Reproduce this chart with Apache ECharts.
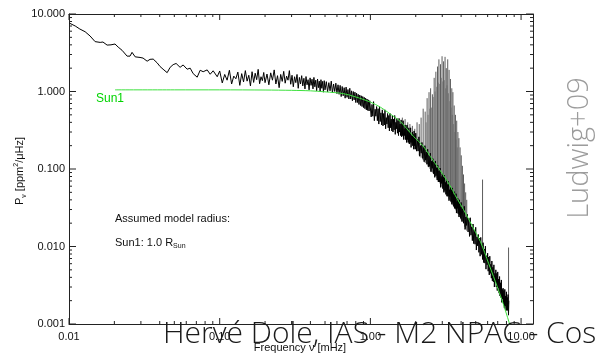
<!DOCTYPE html>
<html><head><meta charset="utf-8">
<script src="https://cdn.jsdelivr.net/npm/echarts@6/dist/echarts.min.js"></script>
<style>html,body{margin:0;padding:0;background:#fff;overflow:hidden}#c{width:597px;height:356px}</style>
</head><body><div id="c"></div>
<script>
// ---- axis ranges / ticks ----
const X_MIN = 0.01, X_MAX = 12, Y_MIN = 0.001, Y_MAX = 10;
const xMajorTicks = [0.01, 0.1, 1, 10];
const xMinorTicks = [0.02,0.03,0.04,0.05,0.06,0.07,0.08,0.09,0.2,0.3,0.4,0.5,0.6,0.7,0.8,0.9,2,3,4,5,6,7,8,9];
const yMajorTicks = [0.001, 0.01, 0.1, 1, 10];
const yMinorTicks = [0.002,0.003,0.004,0.005,0.006,0.007,0.008,0.009,0.02,0.03,0.04,0.05,0.06,0.07,0.08,0.09,0.2,0.3,0.4,0.5,0.6,0.7,0.8,0.9,2,3,4,5,6,7,8,9];

// ---- observed spectrum [frequency mHz, power ppm^2/uHz] ----
const lowFreqSpectrum = [[0.0101,7.6],[0.0110,7.0],[0.0118,6.4],[0.0128,5.9],[0.0138,5.2],[0.0149,4.4],[0.0161,4.3],[0.0168,4.35],[0.0179,3.97],[0.0190,4.0],[0.0202,4.1],[0.0212,3.74],[0.0225,3.4],[0.0243,2.86],[0.0254,2.86],[0.0262,3.2],[0.0275,2.8],[0.0296,2.75],[0.0310,2.7],[0.0330,2.46],[0.0345,2.6],[0.0362,2.62],[0.0384,2.35],[0.0402,2.1],[0.0421,1.94],[0.0448,1.75],[0.0469,2.05],[0.0491,2.22],[0.0514,2.3],[0.0546,2.05],[0.0572,2.2],[0.0608,1.94],[0.0637,2.0],[0.0667,1.7],[0.0709,1.53],[0.0742,1.88],[0.0777,1.8],[0.0826,1.9],[0.0865,1.67],[0.0905,1.85],[0.0963,1.55]];
const midFreqSpectrum = [[0.100,1.84],[0.104,1.29],[0.108,1.66],[0.112,1.40],[0.116,1.88],[0.120,1.25],[0.124,1.58],[0.128,1.46],[0.132,1.78],[0.136,1.20],[0.140,1.70],[0.144,1.33],[0.148,1.86],[0.152,1.36],[0.156,1.62],[0.160,1.18],[0.164,1.80],[0.168,1.31],[0.172,1.72],[0.176,1.42],[0.180,1.93],[0.184,1.26],[0.188,1.55],[0.192,1.38],[0.196,1.76],
[0.200,1.30],[0.206,1.68],[0.212,1.22],[0.218,1.74],[0.224,1.40],[0.230,1.90],[0.236,1.25],[0.242,1.60],[0.248,1.12],[0.254,1.66],[0.260,1.35],[0.266,1.82],[0.272,1.28],[0.278,1.58],[0.284,1.40],[0.290,1.86],[0.296,1.24],[0.302,1.62],[0.308,1.15],[0.314,1.55],[0.320,1.30],[0.326,1.66],[0.332,1.10],[0.338,1.52],[0.344,1.25],[0.350,1.60],[0.356,1.18],[0.362,1.48],[0.368,1.08],[0.374,1.56],[0.380,1.22],[0.386,1.42],[0.392,1.05],[0.398,1.50],[0.404,1.20],[0.410,1.44],[0.416,1.08],[0.422,1.52],[0.428,1.15],[0.434,1.40],[0.440,1.02],[0.446,1.45],[0.452,1.12],[0.458,1.36],[0.464,1.00],[0.470,1.42],[0.476,1.10],[0.482,1.35],[0.488,0.98],[0.494,1.38],
[0.50,1.05],[0.51,1.34],[0.52,0.99],[0.53,1.30],[0.54,1.02],[0.55,1.36],[0.56,0.96],[0.57,1.25],[0.58,1.00],[0.59,1.28],[0.60,0.94],[0.61,1.22],[0.62,0.92],[0.63,1.20],[0.64,0.86],[0.65,1.16],[0.66,0.88],[0.67,1.12],[0.68,0.82],[0.69,1.14],[0.70,0.84],[0.71,1.06],[0.72,0.80],[0.73,1.10],[0.74,0.80],[0.75,1.02],[0.76,0.76],[0.77,1.00],[0.78,0.78],[0.79,0.98],[0.80,0.72],[0.81,0.95],[0.82,0.72],[0.83,0.92],[0.84,0.68],[0.85,0.90],[0.86,0.66],[0.87,0.88],[0.88,0.64],[0.89,0.86],[0.90,0.62],[0.91,0.84],[0.92,0.60],[0.93,0.82],[0.94,0.58],[0.95,0.80],[0.96,0.57],[0.97,0.78],[0.98,0.56],[0.99,0.76]];
const highFreqSpectrum = [[1.0000,0.77],[1.0125,0.47],[1.0250,0.68],[1.0375,0.48],[1.0500,0.74],[1.0625,0.42],[1.0750,0.59],[1.0875,0.48],[1.1000,0.64],[1.1125,0.42],[1.1250,0.60],[1.1375,0.38],[1.1500,0.64],[1.1625,0.41],[1.1750,0.53],[1.1875,0.37],[1.2000,0.58],[1.2125,0.36],[1.2250,0.52],[1.2375,0.37],[1.2500,0.58],[1.2625,0.33],[1.2750,0.46],[1.2875,0.38],[1.3000,0.52],[1.3125,0.34],[1.3250,0.49],[1.3375,0.31],[1.3500,0.52],[1.3625,0.34],[1.3750,0.44],[1.3875,0.31],[1.4000,0.49],[1.4125,0.30],[1.4250,0.44],[1.4375,0.32],[1.4500,0.49],[1.4625,0.28],[1.4750,0.40],[1.4875,0.33],[1.5000,0.45],[1.5125,0.29],[1.5250,0.42],[1.5375,0.27],[1.5500,0.45],[1.5625,0.30],[1.5750,0.38],[1.5875,0.27],[1.6000,0.43],[1.6125,0.26],[1.6250,0.38],[1.6375,0.27],[1.6500,0.42],[1.6625,0.24],[1.6750,0.33],[1.6875,0.27],[1.7000,0.37],[1.7125,0.24],[1.7250,0.35],[1.7375,0.22],[1.7500,0.37],[1.7625,0.24],[1.7750,0.31],[1.7875,0.22],[1.8000,0.34],[1.8125,0.21],[1.8250,0.30],[1.8375,0.22],[1.8500,0.34],[1.8625,0.19],[1.8750,0.27],[1.8875,0.22],[1.9000,0.30],[1.9125,0.20],[1.9250,0.28],[1.9375,0.18],[1.9500,0.31],[1.9625,0.20],[1.9750,0.26],[1.9875,0.18],
[2.000,0.29],[2.025,0.17],[2.050,0.24],[2.075,0.17],[2.100,0.26],[2.125,0.146],[2.150,0.20],[2.175,0.16],[2.200,0.22],[2.225,0.137],[2.250,0.19],[2.275,0.124],[2.300,0.20],[2.325,0.13],[2.350,0.166],[2.375,0.115],[2.400,0.18],[2.425,0.107],[2.450,0.15],[2.475,0.108],[2.500,0.16],[2.525,0.092],[2.550,0.126],[2.575,0.102],[2.600,0.136],[2.625,0.087],[2.650,0.123],[2.675,0.078],[2.700,0.127],[2.725,0.082],[2.750,0.104],[2.775,0.072],[2.800,0.112],[2.825,0.068],[2.850,0.095],[2.875,0.068],[2.900,0.103],[2.925,0.058],[2.950,0.080],[2.975,0.065],[3.000,0.087],[3.025,0.056],[3.050,0.079],[3.075,0.050],[3.100,0.083],[3.125,0.053],[3.150,0.067],[3.175,0.047],[3.200,0.073],[3.225,0.0445],[3.250,0.063],[3.275,0.045],[3.300,0.069],[3.325,0.039],[3.350,0.054],[3.375,0.044],[3.400,0.060],[3.425,0.038],[3.450,0.054],[3.475,0.035],[3.500,0.057],[3.525,0.037],[3.550,0.047],[3.575,0.033],[3.600,0.051],[3.625,0.031],[3.650,0.044],[3.675,0.031],[3.700,0.048],[3.725,0.027],[3.750,0.038],[3.775,0.031],[3.800,0.042],[3.825,0.0265],[3.850,0.038],[3.875,0.024],[3.900,0.040],[3.925,0.0255],[3.950,0.0325],[3.975,0.023],
[4.00,0.037],[4.05,0.021],[4.10,0.031],[4.15,0.020],[4.20,0.033],[4.25,0.0166],[4.30,0.024],[4.35,0.0187],[4.40,0.026],[4.45,0.0154],[4.50,0.023],[4.55,0.0135],[4.60,0.0235],[4.65,0.014],[4.70,0.018],[4.75,0.0119],[4.80,0.0195],[4.85,0.0109],[4.90,0.0163],[4.95,0.0107],[5.00,0.0177],[5.05,0.0090],[5.10,0.0133],[5.15,0.0102],[5.20,0.0143],[5.25,0.0084],[5.30,0.0128],[5.35,0.0075],[5.40,0.0131],[5.45,0.0079],[5.50,0.0104],[5.55,0.0068],[5.60,0.0112],[5.65,0.0062],[5.70,0.0093],[5.75,0.0061],[5.80,0.0101],[5.85,0.0051],[5.90,0.0076],[5.95,0.0058],[6.00,0.0082],[6.05,0.0048],[6.10,0.0073],[6.15,0.0043],[6.20,0.0075],[6.25,0.0045],[6.30,0.0059],[6.35,0.0039],[6.40,0.0065],[6.45,0.0036],[6.50,0.0054],[6.55,0.0035],[6.60,0.0058],[6.65,0.0030],[6.70,0.0045],[6.75,0.0035],[6.80,0.0050],[6.85,0.0030],[6.90,0.0045],[6.95,0.0027],[7.00,0.0047],[7.05,0.0029],[7.10,0.0038],[7.15,0.0025],[7.20,0.0041],[7.25,0.0023],[7.30,0.0034],[7.35,0.0022],[7.40,0.0037],[7.45,0.0019],[7.50,0.0028],[7.55,0.0021],[7.60,0.0029],[7.65,0.0018],[7.70,0.0027],[7.75,0.0016],[7.80,0.0028],[7.85,0.0017],[7.90,0.0023],[7.95,0.0015],[8.00,0.0026],[8.05,0.0015],[8.10,0.0022],[8.15,0.0015],[8.20,0.0024],[8.25,0.0013],[8.30,0.0020]];
// p-mode peaks and spikes: [frequency, base power, peak power]
const modePeaks = [[1.63,0.27,0.46],[1.70,0.24,0.44],[1.77,0.22,0.40],[1.83,0.21,0.38],[1.90,0.20,0.36],[1.97,0.18,0.33],[2.04,0.17,0.40],[2.11,0.15,0.38],[2.17,0.14,0.46],[2.24,0.13,0.60],[2.31,0.12,0.55],[2.38,0.115,0.82],[2.45,0.105,0.98],[2.51,0.095,1.10],[2.58,0.09,0.92],[2.65,0.085,1.50],[2.72,0.08,1.80],[2.79,0.073,2.10],[2.85,0.068,2.60],[2.92,0.062,2.25],[2.99,0.058,2.85],[3.06,0.053,2.45],[3.13,0.05,2.80],[3.19,0.047,2.00],[3.26,0.044,2.60],[3.33,0.041,1.90],[3.40,0.039,1.45],[3.47,0.036,1.10],[3.53,0.034,0.98],[3.60,0.032,0.66],[3.67,0.030,0.50],[3.74,0.028,0.42],[3.81,0.027,0.30],[3.87,0.025,0.25],[3.94,0.024,0.19],[4.01,0.022,0.15],[4.08,0.021,0.11],[4.15,0.020,0.085],[4.22,0.018,0.065],[4.29,0.017,0.05],[4.36,0.016,0.04],[5.55,0.0075,0.073],[8.26,0.0018,0.0097]];
const minorPeaks = [[2.345,0.12,0.40],[2.415,0.11,0.50],[2.48,0.10,0.60],[2.545,0.093,0.62],[2.615,0.087,0.85],[2.685,0.082,1.00],[2.755,0.076,1.15],[2.82,0.07,1.30],[2.885,0.065,1.25],[2.955,0.06,1.50],[3.025,0.055,1.35],[3.095,0.052,1.40],[3.16,0.048,1.10],[3.225,0.045,1.20],[3.295,0.043,0.95],[3.365,0.040,0.75],[3.435,0.037,0.62],[3.50,0.035,0.50],[3.565,0.033,0.38],[3.635,0.031,0.30],[3.705,0.029,0.24],[3.775,0.027,0.19]];

// ---- model Sun1 ----
const sunModel = [[0.0202,1.05],[0.05,1.05],[0.1,1.05],[0.2,1.045],[0.3,1.035],[0.4,1.02],[0.5,0.99],[0.66,0.94],[0.8,0.85],[1.0,0.73],[1.17,0.625],[1.36,0.51],[1.58,0.41],[1.93,0.264],[2.25,0.196],[2.5,0.145],[3.25,0.069],[3.8,0.040],[4.15,0.030],[5.0,0.0151],[5.38,0.0115],[6.1,0.006],[6.56,0.0041],[7.31,0.0023],[7.89,0.00147],[8.39,0.001],[8.5,0.00092]];

const spectrum = lowFreqSpectrum.concat(midFreqSpectrum, highFreqSpectrum);

const FONT = '"Liberation Sans", Arial, sans-serif';
const LIGHT = '"Open Sans", Lato, Roboto, sans-serif';
const AX = '#222';

function isDecade(v){ const l = Math.log10(v); return Math.abs(l - Math.round(l)) < 1e-6; }

function tickSeries(values, dir, len) {
  return {
    type: 'custom', xAxisIndex: 0, yAxisIndex: 0, silent: true, clip: false, z: 5, animation: false,
    data: values.map(v => dir === 'x' ? [v, Y_MIN] : [X_MIN, v]),
    renderItem: function (params, api) {
      const st = { stroke: AX, lineWidth: 1 };
      if (dir === 'x') {
        const v = api.value(0);
        const b = api.coord([v, Y_MIN]), t = api.coord([v, Y_MAX]);
        return { type: 'group', children: [
          { type: 'line', shape: { x1: b[0], y1: b[1], x2: b[0], y2: b[1] - len }, style: st },
          { type: 'line', shape: { x1: t[0], y1: t[1], x2: t[0], y2: t[1] + len }, style: st } ] };
      } else {
        const v = api.value(1);
        const l = api.coord([X_MIN, v]), r = api.coord([X_MAX, v]);
        return { type: 'group', children: [
          { type: 'line', shape: { x1: l[0], y1: l[1], x2: l[0] + len, y2: l[1] }, style: st },
          { type: 'line', shape: { x1: r[0], y1: r[1], x2: r[0] - len, y2: r[1] }, style: st } ] };
      }
    }
  };
}
function peakSeries(values, color, width) {
  return {
    type: 'custom', xAxisIndex: 0, yAxisIndex: 0, silent: true, z: 2, animation: false,
    data: values,
    renderItem: function (params, api) {
      const f = api.value(0);
      const a = api.coord([f, api.value(1)]), b = api.coord([f, api.value(2)]);
      return { type: 'line', shape: { x1: a[0], y1: a[1], x2: b[0], y2: b[1] }, style: { stroke: color, lineWidth: width } };
    }
  };
}

const chart = echarts.init(document.getElementById('c'), null, { renderer: 'canvas' });
chart.setOption({
  animation: false,
  backgroundColor: '#fff',
  grid: { left: 69, right: 64, top: 14, bottom: 32, containLabel: false },
  xAxis: [
    { type: 'log', logBase: 10, min: X_MIN, max: X_MAX, position: 'bottom',
      axisLine: { show: true, lineStyle: { color: AX, width: 1 } }, axisTick: { show: false },
      splitLine: { show: false }, minorTick: { show: false },
      axisLabel: { show: true, margin: 7, color: '#111', fontSize: 11, fontFamily: FONT, showMaxLabel: false,
        formatter: v => isDecade(v) ? v.toFixed(2) : '' } },
    { type: 'log', logBase: 10, min: X_MIN, max: X_MAX, position: 'top',
      axisLine: { show: true, onZero: false, lineStyle: { color: AX, width: 1 } }, axisTick: { show: false },
      splitLine: { show: false }, axisLabel: { show: false } }
  ],
  yAxis: [
    { type: 'log', logBase: 10, min: Y_MIN, max: Y_MAX, position: 'left',
      axisLine: { show: true, lineStyle: { color: AX, width: 1 } }, axisTick: { show: false },
      splitLine: { show: false },
      axisLabel: { show: true, margin: 4, color: '#111', fontSize: 11, fontFamily: FONT,
        formatter: v => isDecade(v) ? v.toFixed(3) : '' } },
    { type: 'log', logBase: 10, min: Y_MIN, max: Y_MAX, position: 'right',
      axisLine: { show: true, onZero: false, lineStyle: { color: AX, width: 1 } }, axisTick: { show: false },
      splitLine: { show: false }, axisLabel: { show: false } }
  ],
  series: [
    { name: 'Spectrum', type: 'line', data: spectrum, symbol: 'none', showSymbol: false,
      lineStyle: { color: '#000', width: 1 }, z: 2, animation: false },
    peakSeries(modePeaks, '#333', 0.8),
    peakSeries(minorPeaks, '#666', 0.7),
    { name: 'Sun1', type: 'line', data: sunModel, symbol: 'none', showSymbol: false, smooth: 0.3,
      lineStyle: { color: '#3ee03e', width: 1 }, z: 3, animation: false },
    tickSeries(xMajorTicks, 'x', 6), tickSeries(xMinorTicks, 'x', 3),
    tickSeries(yMajorTicks, 'y', 7), tickSeries(yMinorTicks, 'y', 3)
  ],
  graphic: [
    { type: 'text', x: 96, y: 99, z: 10, style: { text: 'Sun1', fill: '#00d400', fontSize: 12, fontFamily: FONT, verticalAlign: 'middle' } },
    { type: 'text', x: 115, y: 219, z: 10, style: { text: 'Assumed model radius:', fill: '#111', fontSize: 11, fontFamily: FONT, verticalAlign: 'middle' } },
    { type: 'text', x: 115, y: 243, z: 10, style: { text: '{m|Sun1: 1.0 R}{s|Sun}', fill: '#111', fontFamily: FONT, verticalAlign: 'middle',
        rich: { m: { fontSize: 11, lineHeight: 14, fontFamily: FONT, fill: '#111' }, s: { fontSize: 7, lineHeight: 8, verticalAlign: 'bottom', fontFamily: FONT, fill: '#111' } } } },
    { type: 'text', x: 20, y: 171, rotation: Math.PI / 2, z: 10, style: { text: '{m|P}{s|ν}{m| [ppm}{p|2}{m|/μHz]}', fill: '#111', fontFamily: FONT, align: 'center', verticalAlign: 'middle',
        rich: { m: { fontSize: 11, lineHeight: 15, fontFamily: FONT, fill: '#111' }, s: { fontSize: 7, lineHeight: 8, verticalAlign: 'bottom', fontFamily: FONT, fill: '#111' }, p: { fontSize: 7, lineHeight: 8, verticalAlign: 'top', fontFamily: FONT, fill: '#111' } } } },
    { type: 'text', x: 300, y: 348, z: 10, style: { text: 'Frequency ν [mHz]', fill: '#111', fontSize: 11, fontFamily: FONT, align: 'center', verticalAlign: 'middle' } },
    { type: 'text', x: 580, y: 148, rotation: Math.PI / 2, z: 20, style: { text: 'Ludwig+09', fill: '#9c9c9c', fontSize: 29, fontWeight: 300, fontFamily: LIGHT, align: 'center', verticalAlign: 'middle' } },
    { type: 'text', x: 163, y: 334, z: 20, style: { text: 'Hervé Dole, IAS - M2 NPAC - Cos', fill: '#1a1a1a', fontSize: 30, fontWeight: 300, fontFamily: LIGHT, verticalAlign: 'middle' } }
  ]
});
</script>
</body></html>
